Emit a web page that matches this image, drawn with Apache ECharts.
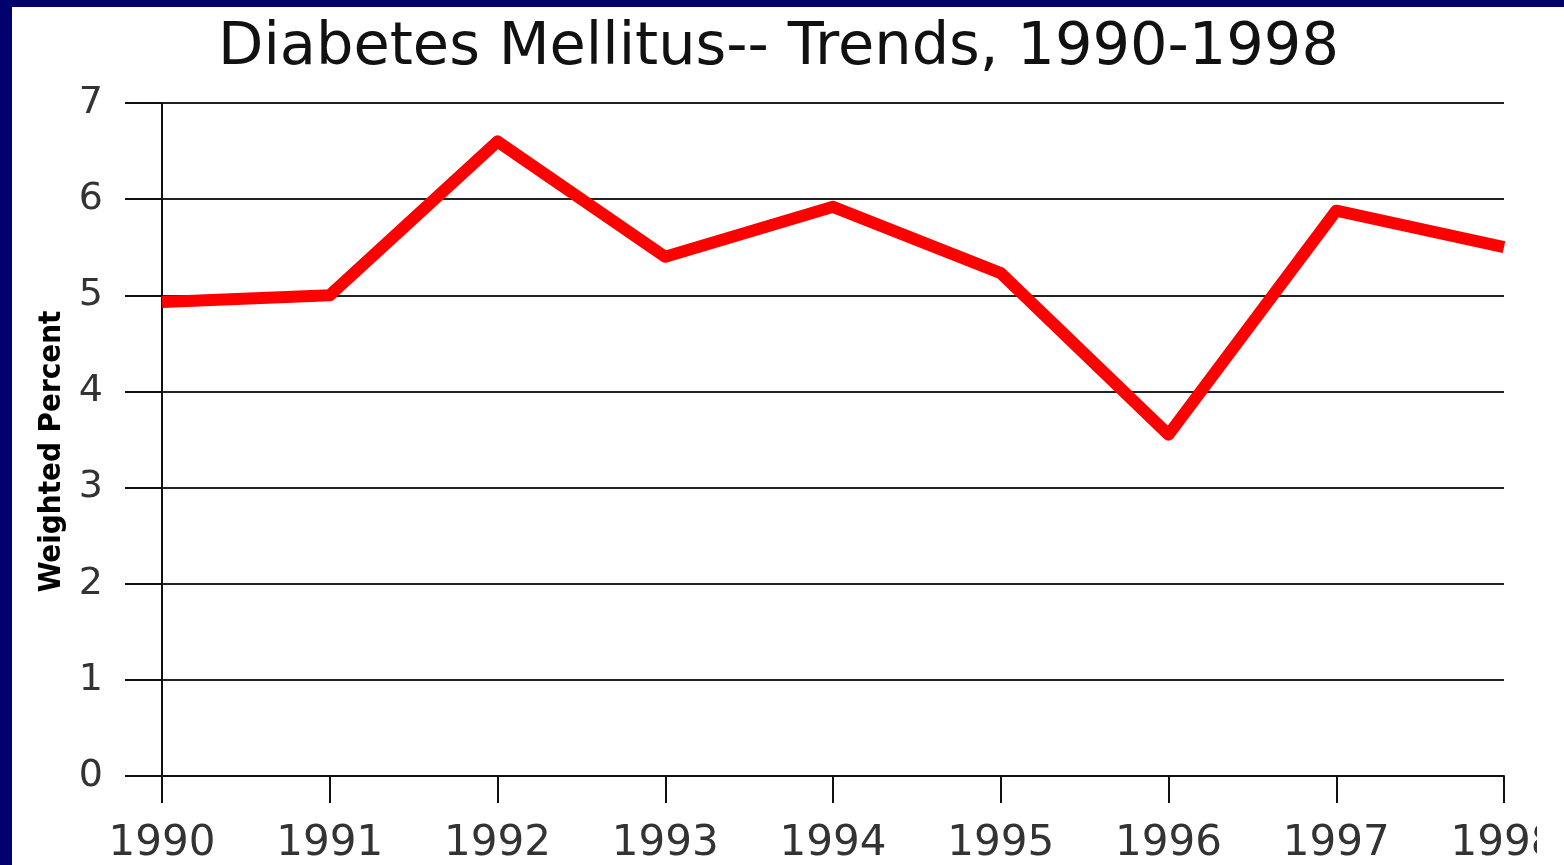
<!DOCTYPE html>
<html>
<head>
<meta charset="utf-8">
<script src="https://cdn.jsdelivr.net/npm/echarts@6/dist/echarts.min.js"></script>
<style>
  html, body { margin: 0; padding: 0; background: #00006e; width: 1564px; height: 865px; overflow: hidden; }
  #chart { position: absolute; left: 12px; top: 7px; width: 1552px; height: 858px; background: #fff; }
</style>
</head>
<body>
<div id="chart"></div>
<script>
// data
var years = ["1990", "1991", "1992", "1993", "1994", "1995", "1996", "1997", "1998"];
var weightedPercent = [4.93, 5.0, 6.6, 5.4, 5.92, 5.23, 3.55, 5.88, 5.5];

var myChart = echarts.init(document.getElementById("chart"));

var option = {
  animation: false,
  backgroundColor: "#fff",
  title: {
    text: "Diabetes Mellitus-- Trends, 1990-1998",
    left: 201,
    top: 7,
    textStyle: {
      fontFamily: "DejaVu Sans",
      fontSize: 59,
      fontWeight: "normal",
      color: "#111",
    },
  },
  grid: {
    left: 150,
    right: 60,
    top: 96,
    bottom: 89,
  },
  xAxis: {
    type: "category",
    data: years,
    boundaryGap: false,
    axisLine: { lineStyle: { color: "#111", width: 2 } },
    axisTick: { length: 27, lineStyle: { color: "#111", width: 2 } },
    axisLabel: {
      margin: 47,
      fontFamily: "DejaVu Sans",
      fontSize: 42,
      color: "#333",
    },
    splitLine: { show: false },
  },
  yAxis: {
    type: "value",
    min: 0,
    max: 7,
    interval: 1,
    name: "Weighted Percent",
    nameLocation: "middle",
    nameRotate: 90,
    nameGap: 90,
    nameTextStyle: {
      fontFamily: "'DejaVu Sans Condensed', 'Liberation Sans'",
      fontWeight: "bold",
      fontSize: 31,
      color: "#000",
      padding: [0, 24, 0, 0],
    },
    axisLine: { show: true, lineStyle: { color: "#111", width: 2 } },
    axisTick: { show: true, length: 37, lineStyle: { color: "#111", width: 2 } },
    axisLabel: {
      margin: 59,
      fontFamily: "DejaVu Sans",
      fontSize: 38,
      color: "#333",
    },
    splitLine: { lineStyle: { color: "#222", width: 2 } },
  },
  series: [
    {
      name: "Weighted Percent",
      type: "line",
      data: weightedPercent,
      showSymbol: false,
      lineStyle: { color: "#ff0000", width: 12, join: "round" },
      z: 5,
    },
  ],
  graphic: [
    {
      // the slide crops the last year label
      type: "rect",
      right: 0,
      bottom: 0,
      shape: { width: 27, height: 70 },
      style: { fill: "#fff" },
      z: 100,
    },
  ],
};

myChart.setOption(option);
</script>
</body>
</html>
